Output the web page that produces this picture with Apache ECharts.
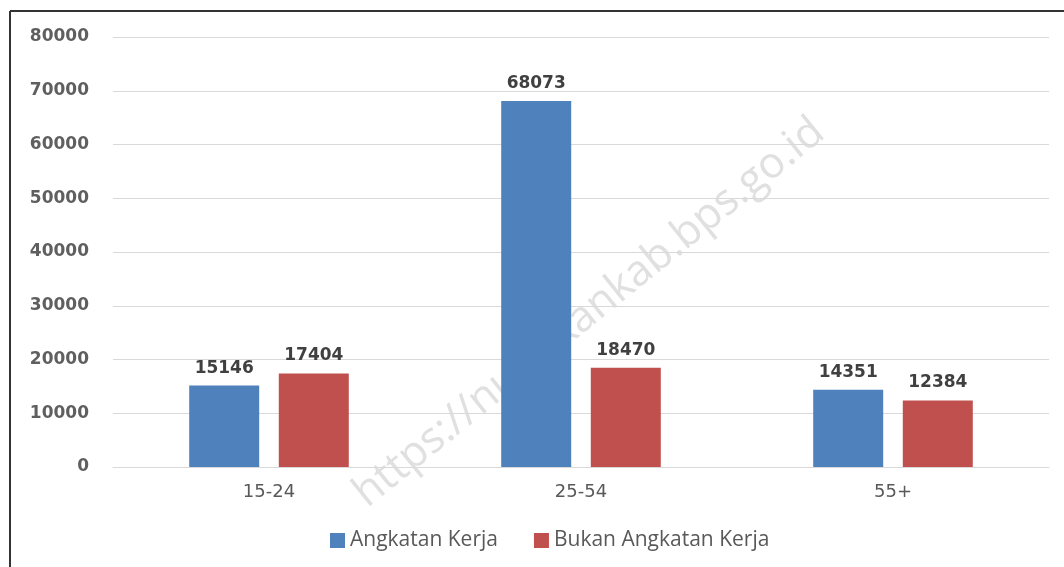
<!DOCTYPE html>
<html>
<head>
<meta charset="utf-8">
<script src="https://cdn.jsdelivr.net/npm/echarts@6/dist/echarts.min.js"></script>
<style>
html,body{margin:0;padding:0;background:#fff;}
#c{width:1064px;height:567px;}
</style>
</head>
<body>
<div id="c"></div>
<script>
const categories = ['15-24', '25-54', '55+'];
const seriesNames = ['Angkatan Kerja', 'Bukan Angkatan Kerja'];
const angkatanKerja = [15146, 68073, 14351];
const bukanAngkatanKerja = [17404, 18470, 12384];
const watermark = 'https://nunukankab.bps.go.id';

const chart = echarts.init(document.getElementById('c'), null, {renderer: 'canvas'});
const font = '"Open Sans", "DejaVu Sans", sans-serif';
const numFont = '"DejaVu Sans", sans-serif';
const labelCfg = {show: true, position: 'top', distance: 9, color: '#404040', fontSize: 17, fontWeight: 'bold', fontFamily: numFont};
chart.setOption({
  animation: false,
  backgroundColor: '#fff',
  graphic: [
    {type: 'text', left: 346, top: 110, rotation: 39 * Math.PI / 180, z: 0,
     style: {text: watermark, font: '43px ' + font, fill: '#e0e0e0'}},
    {type: 'line', z: 100, shape: {x1: 10, y1: 11, x2: 1064, y2: 11}, style: {stroke: '#333', lineWidth: 2}},
    {type: 'line', z: 100, shape: {x1: 10, y1: 11, x2: 10, y2: 567}, style: {stroke: '#333', lineWidth: 2}}
  ],
  legend: {
    data: seriesNames, bottom: 11, left: 325, itemWidth: 15, itemHeight: 15, itemGap: 36,
    icon: 'rect',
    textStyle: {color: '#595959', fontSize: 21, fontFamily: font}
  },
  grid: {left: 113, right: 15, top: 37, bottom: 100},
  xAxis: {
    type: 'category', data: categories,
    axisLine: {lineStyle: {color: '#d9d9d9'}},
    axisTick: {show: false},
    axisLabel: {color: '#595959', fontSize: 18, margin: 16, fontFamily: numFont}
  },
  yAxis: {
    type: 'value', min: 0, max: 80000, interval: 10000,
    axisLine: {show: false}, axisTick: {show: false},
    splitLine: {lineStyle: {color: '#d9d9d9'}},
    axisLabel: {color: '#5f5f5f', fontSize: 17, margin: 24, fontWeight: 'bold', fontFamily: numFont,
      formatter: v => String(v)}
  },
  series: [
    {name: seriesNames[0], type: 'bar', data: angkatanKerja, barWidth: 70, barGap: '28%',
     itemStyle: {color: '#4F81BD'}, label: labelCfg},
    {name: seriesNames[1], type: 'bar', data: bukanAngkatanKerja, barWidth: 70,
     itemStyle: {color: '#C0504D'}, label: labelCfg}
  ]
});
</script>
</body>
</html>
